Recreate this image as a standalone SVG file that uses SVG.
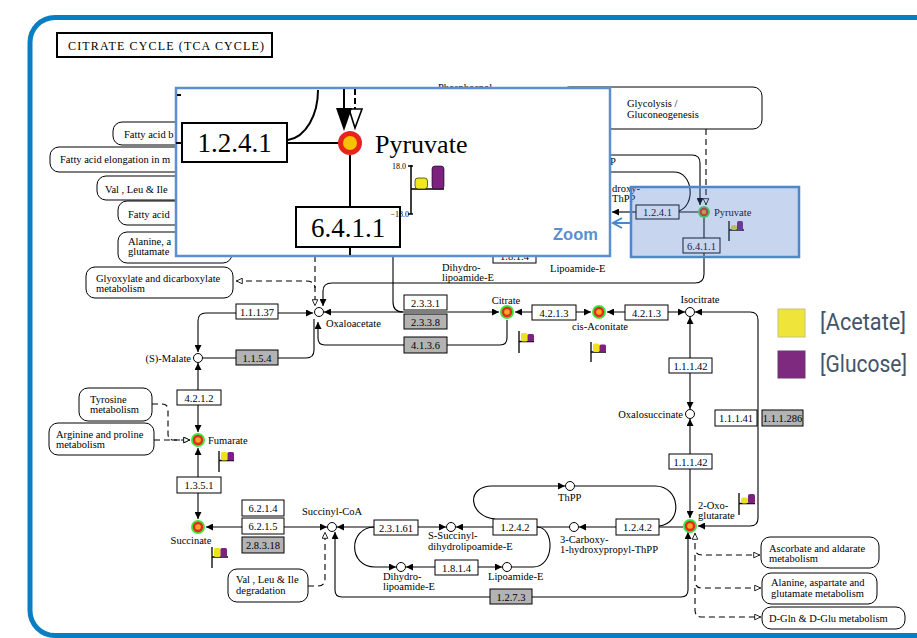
<svg xmlns="http://www.w3.org/2000/svg" width="917" height="638" viewBox="0 0 917 638">
<style>
.ln{fill:none;stroke:#000;stroke-width:1.1}
.dl{fill:none;stroke:#000;stroke-width:1.1;stroke-dasharray:6 4}
.box{fill:#fff;stroke:#000;stroke-width:1}
.gb{fill:#b3b3b3;stroke:#000;stroke-width:1}
.pill{fill:#fff;stroke:#000;stroke-width:1}
.t{font-family:"Liberation Serif","DejaVu Serif",serif;font-size:10.5px;fill:#000}
.big{font-size:27px}
.sm{font-size:8px}
.c{text-anchor:middle}
.e{text-anchor:end}
.cp{fill:#fff;stroke:#000;stroke-width:1}
.y{fill:#eee21a}
.p{fill:#7c217f}
.fl{fill:none;stroke:#000;stroke-width:1.3}
</style>
<defs>
<marker id="ah" viewBox="0 0 10 10" refX="10" refY="5" markerWidth="8" markerHeight="7" orient="auto-start-reverse" markerUnits="userSpaceOnUse"><path d="M0,0L10,5L0,10z" fill="#000"/></marker>
<marker id="oh" viewBox="0 0 10 10" refX="10" refY="5" markerWidth="8" markerHeight="7" orient="auto-start-reverse" markerUnits="userSpaceOnUse"><path d="M1,1L9.5,5L1,9z" fill="#fff" stroke="#000" stroke-width="1.2"/></marker>
<g id="hl"><circle r="7" fill="#3ee63e"/><circle r="5.2" fill="#e52b1f"/><circle r="2.8" fill="#f9a825"/></g>
</defs>
<rect width="917" height="638" fill="#fff"/>
<rect x="30" y="17.5" width="925" height="618" rx="25" fill="none" stroke="#0a7ec2" stroke-width="5"/>

<g id="title"><rect x="57" y="33" width="215" height="24" fill="#fff" stroke="#000" stroke-width="2"/><text class="t" x="68" y="50" style="font-size:12px" textLength="196">CITRATE  CYCLE  (TCA CYCLE)</text></g>

<g id="pathway-maps">
<g id="fatty-acid-bio"><rect class="pill" x="113" y="122" width="130" height="23" rx="9"/><text class="t" x="124" y="138">Fatty acid b</text></g>
<g id="fatty-acid-elong"><rect class="pill" x="50" y="147" width="175" height="25" rx="9"/><text class="t" x="60" y="163">Fatty acid elongation in m</text></g>
<g id="val-leu-ile-bio"><rect class="pill" x="97" y="176" width="130" height="24" rx="9"/><text class="t" x="105" y="193">Val , Leu &amp; Ile</text></g>
<g id="fatty-acid-met"><rect class="pill" x="118" y="201" width="110" height="24" rx="9"/><text class="t" x="128" y="218">Fatty acid</text></g>
<g id="ala-asp-glu-top"><rect class="pill" x="118" y="232" width="114" height="31" rx="9"/><text class="t" x="128" y="245">Alanine, a</text><text class="t" x="128" y="255">glutamate</text></g>
<g id="glyoxylate"><rect class="pill" x="86" y="267" width="147" height="31" rx="9"/><text class="t" x="96" y="282">Glyoxylate and dicarboxylate</text><text class="t" x="96" y="292">metabolism</text></g>
<g id="tyrosine"><rect class="pill" x="79" y="388" width="73" height="33" rx="9"/><text class="t" x="90" y="403">Tyrosine</text><text class="t" x="90" y="413">metabolism</text></g>
<g id="arginine"><rect class="pill" x="49" y="423" width="105" height="32" rx="9"/><text class="t" x="56" y="438">Arginine and proline</text><text class="t" x="56" y="448">metabolism</text></g>
<g id="val-leu-ile-deg"><rect class="pill" x="228" y="569" width="80" height="33" rx="9"/><text class="t" x="236" y="583">Val , Leu &amp; Ile</text><text class="t" x="236" y="594">degradation</text></g>
<g id="glycolysis"><rect class="pill" x="560" y="87" width="202" height="42" rx="9"/><text class="t" x="627" y="107">Glycolysis /</text><text class="t" x="627" y="118">Gluconeogenesis</text></g>
<g id="ascorbate"><rect class="pill" x="761" y="537" width="118" height="31" rx="9"/><text class="t" x="769" y="552">Ascorbate and aldarate</text><text class="t" x="769" y="562">metabolism</text></g>
<g id="ala-asp-glu"><rect class="pill" x="762" y="573" width="115" height="31" rx="9"/><text class="t" x="771" y="586">Alanine, aspartate and</text><text class="t" x="771" y="597">glutamate metabolism</text></g>
<g id="dgln"><rect class="pill" x="762" y="607" width="143" height="22" rx="9"/><text class="t" x="769" y="622">D-Gln &amp; D-Glu metabolism</text></g>
</g>

<g id="connectors">
<path class="ln" d="M324,312H499" marker-start="url(#ah)" marker-end="url(#ah)"/>
<path class="ln" d="M393,256V302Q393,312 403,312"/>
<path class="ln" d="M515,312H591" marker-start="url(#ah)" marker-end="url(#ah)"/>
<path class="ln" d="M607,312H685" marker-start="url(#ah)" marker-end="url(#ah)"/>
<path class="ln" d="M695,312H750Q758,312 758,320V518Q758,526 750,526H698" marker-start="url(#ah)" marker-end="url(#ah)"/>
<path class="ln" d="M690,317V409" marker-start="url(#ah)" marker-end="url(#ah)"/>
<path class="ln" d="M690,419V518" marker-start="url(#ah)" marker-end="url(#ah)"/>
<path class="ln" d="M683,527H579" marker-end="url(#ah)"/>
<path class="ln" d="M570,527H456" marker-end="url(#ah)"/>
<path class="ln" d="M495,519C468,516 466,486 492,486H565" marker-end="url(#ah)"/>
<path class="ln" d="M575,486H655C681,486 683,524 659,526"/>
<path class="ln" d="M512,567H533C555,567 555,527 537,527"/>
<path class="ln" d="M406,567H502" marker-start="url(#ah)" marker-end="url(#ah)"/>
<path class="ln" d="M374,527C348,528 348,567 375,567H396" marker-end="url(#ah)"/>
<path class="ln" d="M337,527H446" marker-start="url(#ah)" marker-end="url(#ah)"/>
<path class="ln" d="M206,527H327" marker-start="url(#ah)" marker-end="url(#ah)"/>
<path class="ln" d="M335,532V590Q335,597 342,597H681Q688,597 688,590V532" marker-start="url(#ah)" marker-end="url(#ah)"/>
<path class="dl" d="M308,586H318Q325,586 325,579V532" marker-end="url(#oh)"/>
<path class="ln" d="M198,448V519" marker-start="url(#ah)" marker-end="url(#ah)"/>
<path class="ln" d="M198,363V432" marker-start="url(#ah)" marker-end="url(#ah)"/>
<path class="ln" d="M198,352V321Q198,313 206,313H313" marker-start="url(#ah)" marker-end="url(#ah)"/>
<path class="ln" d="M203,358H306Q314,358 314,350V319"/>
<path class="ln" d="M318,322V338Q318,345 325,345H500Q507,345 507,338V320" marker-start="url(#ah)"/>
<path class="ln" d="M704,253V274Q704,283 695,283H332Q323,283 323,291V306" marker-end="url(#ah)"/>
<path class="dl" d="M315,256V306" marker-end="url(#oh)"/>
<path class="dl" d="M236,281H306Q315,281 315,288" marker-start="url(#oh)"/>
<path class="dl" d="M152,404H162Q168,404 168,410V434Q168,440 174,440H190" marker-end="url(#oh)"/>
<path class="dl" d="M154,440H190" marker-end="url(#oh)"/>
<path class="dl" d="M695,533V548Q695,555 702,555H760" marker-start="url(#oh)" marker-end="url(#oh)"/>
<path class="dl" d="M695,555V581Q695,588 702,588H761" marker-end="url(#oh)"/>
<path class="dl" d="M695,588V610Q695,617 702,617H761" marker-end="url(#oh)"/>
<path class="dl" d="M706,129V205" marker-end="url(#oh)"/>
<path class="ln" d="M600,155H692Q700,155 700,163V205" marker-end="url(#ah)"/>
<path class="ln" d="M600,172H674C693,172 696,205 679,211"/>
<path class="ln" d="M636,212H612" marker-end="url(#ah)"/>
<path class="ln" d="M679,212H698M704,218V238"/>
</g>

<g id="enzymes">
<g id="ec-1-1-1-37"><rect class="box" x="236" y="304" width="42" height="15"/><text class="t c" x="257" y="315.5">1.1.1.37</text></g>
<g id="ec-1-1-5-4"><rect class="gb" x="236" y="350" width="42" height="15"/><text class="t c" x="257" y="361.5">1.1.5.4</text></g>
<g id="ec-4-2-1-2"><rect class="box" x="177" y="390" width="44" height="15"/><text class="t c" x="199" y="401.5">4.2.1.2</text></g>
<g id="ec-1-3-5-1"><rect class="box" x="177" y="477" width="44" height="16"/><text class="t c" x="199" y="489">1.3.5.1</text></g>
<g id="ec-6-2-1-4"><rect class="box" x="242" y="500" width="42" height="16"/><text class="t c" x="263" y="512">6.2.1.4</text></g>
<g id="ec-6-2-1-5"><rect class="box" x="242" y="518" width="42" height="16"/><text class="t c" x="263" y="530">6.2.1.5</text></g>
<g id="ec-2-8-3-18"><rect class="gb" x="242" y="537" width="42" height="16"/><text class="t c" x="263" y="549">2.8.3.18</text></g>
<g id="ec-2-3-1-61"><rect class="box" x="374" y="520" width="44" height="15"/><text class="t c" x="396" y="531.5">2.3.1.61</text></g>
<g id="ec-1-8-1-4"><rect class="box" x="435" y="560" width="43" height="15"/><text class="t c" x="456.5" y="571.5">1.8.1.4</text></g>
<g id="ec-1-2-4-2a"><rect class="box" x="493" y="519" width="44" height="16"/><text class="t c" x="515" y="531">1.2.4.2</text></g>
<g id="ec-1-2-4-2b"><rect class="box" x="616" y="519" width="43" height="16"/><text class="t c" x="637.5" y="531">1.2.4.2</text></g>
<g id="ec-1-2-7-3"><rect class="gb" x="490" y="589" width="42" height="15"/><text class="t c" x="511" y="600.5">1.2.7.3</text></g>
<g id="ec-2-3-3-1"><rect class="box" x="404" y="295" width="43" height="15"/><text class="t c" x="425.5" y="306.5">2.3.3.1</text></g>
<g id="ec-2-3-3-8"><rect class="gb" x="404" y="314" width="43" height="15"/><text class="t c" x="425.5" y="325.5">2.3.3.8</text></g>
<g id="ec-4-1-3-6"><rect class="gb" x="404" y="337" width="43" height="16"/><text class="t c" x="425.5" y="349">4.1.3.6</text></g>
<g id="ec-4-2-1-3a"><rect class="box" x="532" y="305" width="44" height="15"/><text class="t c" x="554" y="316.5">4.2.1.3</text></g>
<g id="ec-4-2-1-3b"><rect class="box" x="625" y="305" width="43" height="15"/><text class="t c" x="646.5" y="316.5">4.2.1.3</text></g>
<g id="ec-1-1-1-42a"><rect class="box" x="669" y="358" width="43" height="15"/><text class="t c" x="690.5" y="369.5">1.1.1.42</text></g>
<g id="ec-1-1-1-42b"><rect class="box" x="669" y="454" width="43" height="15"/><text class="t c" x="690.5" y="465.5">1.1.1.42</text></g>
<g id="ec-1-1-1-41"><rect class="box" x="715" y="410" width="42" height="16"/><text class="t c" x="736" y="422">1.1.1.41</text></g>
<g id="ec-1-1-1-286"><rect class="gb" x="762" y="410" width="41" height="16"/><text class="t c" x="782.5" y="422">1.1.1.286</text></g>
<g id="ec-1-8-1-4-top"><rect class="box" x="493" y="248" width="43" height="15"/><text class="t c" x="514.5" y="259.5">1.8.1.4</text></g>
</g>

<g id="compounds">
<g id="oxaloacetate"><circle class="cp" cx="319" cy="312" r="4.5"/><text class="t" x="326" y="327">Oxaloacetate</text></g>
<g id="citrate"><use href="#hl" x="507" y="312"/><text class="t c" x="506" y="304">Citrate</text>
<path class="fl" d="M519,331V353M519,341.5H534"/><rect class="y" x="521" y="333" width="6.5" height="8.5" rx="1.5"/><rect class="p" x="527.5" y="334" width="6.5" height="7.5" rx="1.5"/></g>
<g id="cis-aconitate"><use href="#hl" x="599" y="312"/><text class="t" x="572" y="330">cis-Aconitate</text>
<path class="fl" d="M591,342V362M591,352H606"/><rect class="y" x="593" y="343.5" width="6.5" height="8.5" rx="1.5"/><rect class="p" x="599.5" y="344.5" width="6.5" height="7.5" rx="1.5"/></g>
<g id="isocitrate"><circle class="cp" cx="690" cy="312" r="4.5"/><text class="t c" x="700" y="303">Isocitrate</text></g>
<g id="oxalosuccinate"><circle class="cp" cx="690" cy="414" r="4.5"/><text class="t e" x="683" y="418">Oxalosuccinate</text></g>
<g id="oxoglutarate"><use href="#hl" x="690" y="526"/><text class="t" x="698" y="509">2-Oxo-</text><text class="t" x="698" y="519">glutarate</text>
<path class="fl" d="M739,493V515M739,503.5H755"/><rect class="y" x="741" y="497.5" width="7" height="6" rx="2"/><rect class="p" x="748" y="494" width="7" height="9.5" rx="2"/></g>
<g id="malate"><circle class="cp" cx="198" cy="358" r="4.5"/><text class="t e" x="191" y="362">(S)-Malate</text></g>
<g id="fumarate"><use href="#hl" x="198" y="440"/><text class="t" x="208" y="444">Fumarate</text>
<path class="fl" d="M219,451V472M219,460.5H234"/><rect class="y" x="221" y="452" width="6.5" height="8.5" rx="1.5"/><rect class="p" x="227.5" y="452" width="6.5" height="8.5" rx="1.5"/></g>
<g id="succinate"><use href="#hl" x="198" y="527"/><text class="t c" x="191" y="544">Succinate</text>
<path class="fl" d="M212,547V568M212,557H228"/><rect class="y" x="214" y="548" width="6.5" height="9" rx="1.5"/><rect class="p" x="220.5" y="548" width="6.5" height="9" rx="1.5"/></g>
<g id="succinyl-coa"><circle class="cp" cx="332" cy="527" r="4.5"/><text class="t c" x="332" y="515">Succinyl-CoA</text></g>
<g id="s-succinyl"><circle class="cp" cx="451" cy="527" r="4.5"/><text class="t" x="428" y="539">S-Succinyl-</text><text class="t" x="428" y="550">dihydrolipoamide-E</text></g>
<g id="thpp"><circle class="cp" cx="570" cy="486" r="4.5"/><text class="t" x="558" y="501">ThPP</text></g>
<g id="carboxy"><circle class="cp" cx="574" cy="527" r="4.5"/><text class="t" x="560" y="543">3-Carboxy-</text><text class="t" x="560" y="553">1-hydroxypropyl-ThPP</text></g>
<g id="dihydrolipoamide"><circle class="cp" cx="401" cy="567" r="4.5"/><text class="t" x="383" y="580">Dihydro-</text><text class="t" x="383" y="590">lipoamide-E</text></g>
<g id="lipoamide"><circle class="cp" cx="507" cy="567" r="4.5"/><text class="t" x="488" y="580">Lipoamide-E</text></g>
<g id="dihydrolipoamide-top"><text class="t" x="442" y="271">Dihydro-</text><text class="t" x="442" y="281">lipoamide-E</text></g>
<g id="lipoamide-top"><text class="t" x="550" y="272">Lipoamide-E</text></g>
<g id="hydroxyethyl-thpp"><text class="t" x="612" y="192">droxy-</text><text class="t" x="612" y="202">ThPP</text><text class="t" x="610" y="165">P</text></g>
<g id="pep"><text class="t" x="438" y="91">Phosphoenol-</text></g>
</g>

<g id="small-box">
<g id="ec-1-2-4-1-small"><rect class="box" x="636" y="205" width="43" height="14"/><text class="t c" x="657.5" y="215.5">1.2.4.1</text></g>
<g id="pyruvate-small"><circle r="6" cx="704" cy="212" fill="#3ee63e"/><circle r="4.3" cx="704" cy="212" fill="#e52b1f"/><circle r="2.3" cx="704" cy="212" fill="#f9a825"/><text class="t" x="714" y="216">Pyruvate</text>
<path class="fl" d="M729,221V241M729,230H744"/><rect class="y" x="731" y="225" width="6" height="5" rx="2"/><rect class="p" x="737" y="221" width="6" height="9" rx="1.5"/></g>
<g id="ec-6-4-1-1-small"><rect class="box" x="683" y="238" width="37" height="15"/><text class="t c" x="701.5" y="249.5">6.4.1.1</text></g>
<rect x="631" y="187" width="168" height="70" fill="rgb(70,120,200)" fill-opacity="0.3" stroke="#4d88cc" stroke-width="2.5"/>
</g>

<g id="zoom-inset">
<rect x="176" y="88" width="434" height="168" fill="#fff" stroke="#5b8fd0" stroke-width="2.5"/>
<path d="M177,95H181M176,143H182M287,143H339M350,155V207M350,247V255M344,89V110" stroke="#000" stroke-width="2" fill="none"/>
<path d="M288,140C306,137 318,115 318,90" stroke="#000" stroke-width="2" fill="none"/>
<path d="M355,89V110" stroke="#000" stroke-width="2" stroke-dasharray="6 3" fill="none"/>
<polygon points="349,109 362,109 355,128" fill="#fff" stroke="#000" stroke-width="1.6"/>
<polygon points="336,108 352,108 344,131" fill="#000"/>
<g id="ec-1-2-4-1-zoom"><rect x="182" y="123" width="105" height="39" fill="#fff" stroke="#000" stroke-width="2"/><text class="t big c" x="234.5" y="152">1.2.4.1</text></g>
<g id="pyruvate-zoom"><circle cx="350" cy="143" r="12" fill="#e8231e"/><circle cx="350" cy="143" r="7" fill="#f7c100"/><text class="t" x="375" y="153" style="font-size:26px">Pyruvate</text>
<text class="t sm" x="392" y="169">18.0</text>
<path d="M411,165V214M408,166H413M408,214H413M411,189H444" stroke="#000" stroke-width="1.5" fill="none"/>
<rect x="415" y="178" width="12.5" height="11" rx="3" fill="#f0e81a" stroke="#000" stroke-width="0.6"/><rect x="432" y="166" width="12" height="23" rx="3" fill="#7c217f" stroke="#000" stroke-width="0.6"/></g>
<g id="ec-6-4-1-1-zoom"><rect x="296" y="207" width="104" height="40" fill="#fff" stroke="#000" stroke-width="2"/><text class="t big c" x="348" y="237">6.4.1.1</text></g>
<text class="t sm e" x="409" y="217">−18.0</text>
<text x="553" y="240" font-family="'Liberation Sans','DejaVu Sans',sans-serif" font-weight="bold" font-size="16.5" fill="#5b8fd0">Zoom</text>
</g>
<g id="zoom-arrow"><path d="M630,223H614M622,218L613,223L622,228" fill="none" stroke="#4a86c8" stroke-width="2"/></g>

<g id="legend">
<rect x="778" y="309" width="27" height="28" fill="#efe53a" stroke="#c9c27a" stroke-width="1"/>
<text x="820" y="330" font-family="Roboto,'Liberation Sans',sans-serif" font-size="23" fill="#44546a" textLength="86" lengthAdjust="spacingAndGlyphs">[Acetate]</text>
<rect x="778" y="351" width="27" height="27" fill="#7e2a7e" stroke="#6a3a6a" stroke-width="1"/>
<text x="820" y="372" font-family="Roboto,'Liberation Sans',sans-serif" font-size="23" fill="#44546a" textLength="87" lengthAdjust="spacingAndGlyphs">[Glucose]</text>
</g>
</svg>
